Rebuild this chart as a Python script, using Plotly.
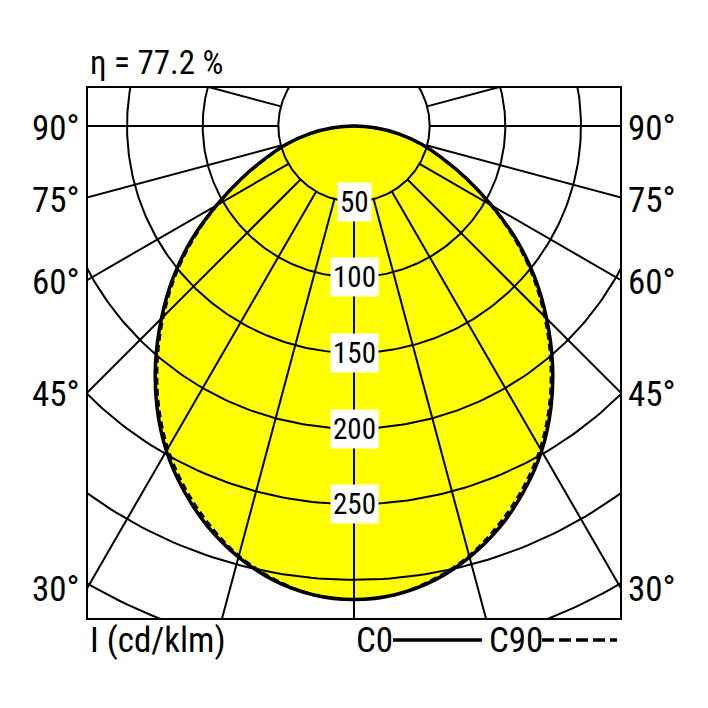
import numpy as np
import plotly.graph_objects as go

FONT = "Roboto Condensed, Liberation Sans Narrow, DejaVu Sans Condensed, sans-serif"

# luminous intensity (cd/klm) per angle from nadir
angles = [0, 5, 10, 15, 20, 25, 30, 35, 40, 45, 50, 55, 60, 65, 70, 75, 80, 85, 90]
c0 = [313, 311, 305, 295, 282, 266, 248, 227, 204, 180, 156, 131, 105, 82, 62, 46, 30, 14, 0]
c90 = [313, 311, 304, 294, 280, 264, 246, 225, 202, 178, 154, 129, 104, 81, 61, 45, 29, 13, 0]

ring_values = [50, 100, 150, 200, 250, 300, 350]
ring_labels = [50, 100, 150, 200, 250]
spoke_angles = [-105, -90, -75, -60, -45, -30, -15, 0, 15, 30, 45, 60, 75, 90, 105]
side_labels = [90, 75, 60, 45, 30]
efficiency = "η = 77.2 %"
unit_text = "I (cd/klm)"

# visible window in cd/klm units (box around the diagram)
X_HALF = 175.8
Y_TOP = 25.1
Y_BOTTOM = -325.2


def both_sides(values):
    th = np.radians(angles)
    v = np.array(values, dtype=float)
    xs = v * np.sin(th)
    ys = -v * np.cos(th)
    x = np.concatenate([-xs[::-1], xs[1:]])
    y = np.concatenate([ys[::-1], ys[1:]])
    return x, y


fig = go.Figure()

# yellow area
fx, fy = both_sides(c0)
fig.add_trace(go.Scatter(x=fx, y=fy, mode="lines", fill="toself",
                         fillcolor="#FFFF00", line=dict(width=0, shape="spline"),
                         hoverinfo="skip"))

# grid: rings and spokes
gx, gy = [], []
t = np.linspace(0, 2 * np.pi, 400)
for r in ring_values:
    gx += list(r * np.sin(t)) + [None]
    gy += list(-r * np.cos(t)) + [None]
for a in spoke_angles:
    th = np.radians(a)
    gx += [ring_values[0] * np.sin(th), 700 * np.sin(th), None]
    gy += [-ring_values[0] * np.cos(th), -700 * np.cos(th), None]
fig.add_trace(go.Scatter(x=gx, y=gy, mode="lines",
                         line=dict(color="black", width=2), hoverinfo="skip"))

# curves
x0, y0 = both_sides(c0)
fig.add_trace(go.Scatter(x=x0, y=y0, mode="lines",
                         line=dict(color="black", width=3.5, shape="spline")))
x90, y90 = both_sides(c90)
fig.add_trace(go.Scatter(x=x90, y=y90, mode="lines",
                         line=dict(color="black", width=2.5, shape="spline",
                                   dash="7px,4px")))

ann = []
for r in ring_labels:
    ann.append(dict(x=0, y=-r, text=str(r), showarrow=False, bgcolor="white",
                    borderpad=2, font=dict(family=FONT, size=29, color="black")))

for a in side_labels:
    yv = 0 if a == 90 else -X_HALF / np.tan(np.radians(a))
    for side in (-1, 1):
        ann.append(dict(x=side * X_HALF, y=yv, text=f"{a}°", showarrow=False,
                        xanchor="right" if side < 0 else "left",
                        xshift=-6 if side < 0 else 6, yshift=-3,
                        font=dict(family=FONT, size=35, color="black")))

ann.append(dict(x=0, y=1.049, xref="paper", yref="paper", text=efficiency,
                showarrow=False, xanchor="left", yanchor="middle",
                font=dict(family=FONT, size=33, color="black")))
ann.append(dict(x=0, y=-0.043, xref="paper", yref="paper", text=unit_text,
                showarrow=False, xanchor="left", yanchor="middle",
                font=dict(family=FONT, size=35, color="black")))
ann.append(dict(x=0.5, y=-0.043, xref="paper", yref="paper", text="C0",
                showarrow=False, xanchor="left", yanchor="middle",
                font=dict(family=FONT, size=35, color="black")))
ann.append(dict(x=0.75, y=-0.043, xref="paper", yref="paper", text="C90",
                showarrow=False, xanchor="left", yanchor="middle",
                font=dict(family=FONT, size=35, color="black")))

shapes = [
    dict(type="line", xref="paper", yref="paper", x0=0.5733, x1=0.7406,
         y0=-0.0415, y1=-0.0415, line=dict(color="black", width=3.5)),
    dict(type="line", xref="paper", yref="paper", x0=0.8534, x1=0.9944,
         y0=-0.0415, y1=-0.0415, line=dict(color="black", width=3.5, dash="12px,5px")),
]

axis_style = dict(showgrid=False, zeroline=False, showticklabels=False, ticks="",
                  showline=True, mirror=True, linecolor="black", linewidth=2)

# page body adds 8px, so the figure is 692 px with the box at 80..612
fig.update_layout(
    width=692, height=692,
    margin=dict(l=80, r=80, t=80, b=82),
    paper_bgcolor="white", plot_bgcolor="white",
    showlegend=False,
    xaxis=dict(range=[-X_HALF, X_HALF], **axis_style),
    yaxis=dict(range=[Y_BOTTOM, Y_TOP], **axis_style),
    annotations=ann, shapes=shapes,
)

fig.write_html("out.html")
